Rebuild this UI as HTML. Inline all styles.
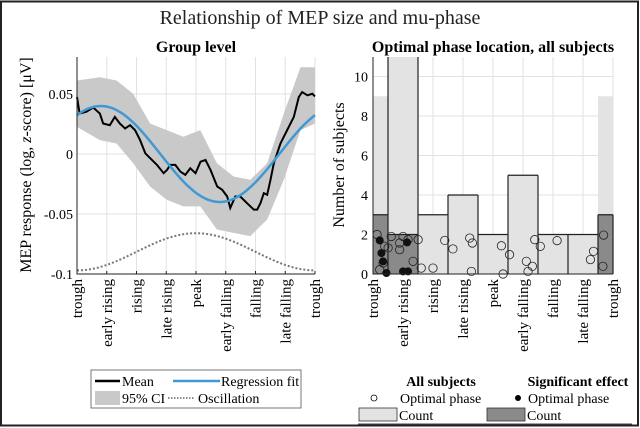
<!DOCTYPE html>
<html><head><meta charset="utf-8"><style>
body{margin:0;background:#fff}
svg{display:block;font-family:"Liberation Serif","DejaVu Serif",serif}
svg text{font-family:"Liberation Serif","DejaVu Serif",serif}
</style></head><body>
<svg id="fig" width="640" height="428" viewBox="0 0 640 428" xmlns="http://www.w3.org/2000/svg" font-family="Liberation Serif, DejaVu Serif, serif">
<rect x="1" y="1.5" width="637" height="424" fill="none" stroke="#222" stroke-width="2"/>
<text x="320" y="24" text-anchor="middle" font-size="20" fill="#222">Relationship of MEP size and mu-phase</text>
<text x="196" y="52" text-anchor="middle" font-size="16" font-weight="bold">Group level</text>
<text x="493" y="52" text-anchor="middle" font-size="16" font-weight="bold">Optimal phase location, all subjects</text>
<g id="left"></g>
<g id="right"></g>
<text transform="translate(31,165) rotate(-90)" text-anchor="middle" font-size="16">MEP response (log, <tspan font-style="italic">z</tspan>-score) [μV]</text>
<text transform="translate(344,165) rotate(-90)" text-anchor="middle" font-size="16">Number of subjects</text>

<g>
<rect x="91" y="370" width="210" height="38" fill="#fff" stroke="#555" stroke-width="0.8"/>
<line x1="95" y1="381" x2="120" y2="381" stroke="#000" stroke-width="2.5"/>
<text x="122" y="386" font-size="14">Mean</text>
<line x1="173" y1="381" x2="220" y2="381" stroke="#3d9ad4" stroke-width="2.5"/>
<text x="221" y="386" font-size="14">Regression fit</text>
<rect x="95" y="391" width="25" height="14" fill="#c9c9c9"/>
<text x="122" y="403" font-size="14">95% CI</text>
<line x1="168" y1="398" x2="195" y2="398" stroke="#666" stroke-width="1.5" stroke-dasharray="1.5,1.5"/>
<text x="198" y="403" font-size="14">Oscillation</text>
</g>
<g>
<line x1="358" y1="424" x2="632" y2="424" stroke="#444" stroke-width="1"/>
<text x="441" y="386" text-anchor="middle" font-size="14" font-weight="bold">All subjects</text>
<text x="578" y="386" text-anchor="middle" font-size="14" font-weight="bold">Significant effect</text>
<circle cx="374" cy="398" r="3" fill="#fff" stroke="#000" stroke-width="0.8"/>
<text x="400" y="403" font-size="14">Optimal phase</text>
<circle cx="518" cy="398" r="3" fill="#000"/>
<text x="528" y="403" font-size="14">Optimal phase</text>
<rect x="359" y="408" width="38" height="13" fill="#e3e3e3" stroke="#333" stroke-width="0.8"/>
<text x="399" y="420" font-size="14">Count</text>
<rect x="487" y="408" width="38" height="13" fill="#8a8a8a" stroke="#333" stroke-width="0.8"/>
<text x="527" y="420" font-size="14">Count</text>
</g>
</svg>
<script>
// ---- Left chart data ----
const phaseLabels = ["trough","early rising","rising","late rising","peak","early falling","falling","late falling","trough"];
const yTicksLeft = [0.05, 0, -0.05, -0.1];
const yTickLabelsLeft = ["0.05","0","-0.05","-0.1"];
const meanX = [0,.011,.039,.068,.096,.110,.138,.159,.180,.202,.223,.244,.265,.287,.308,.336,.364,.378,.392,.413,.434,.455,.476,.498,.519,.540,.561,.589,.610,.631,.644,.665,.686,.714,.743,.757,.771,.785,.799,.813,.827,.855,.883,.911,.932,.946,.968,.989,1];
const meanY = [.0475,.0337,.0351,.0387,.0337,.0254,.0240,.0309,.0254,.0213,.0240,.0199,.0116,.0006,-.0036,-.0091,-.0160,-.0133,-.0091,-.0091,-.0146,-.0174,-.0119,-.0160,-.0064,-.0050,-.0133,-.0271,-.0298,-.0354,-.0450,-.0354,-.0354,-.0409,-.0464,-.0464,-.0409,-.0326,-.0340,-.0215,-.0077,.0088,.0199,.0309,.0475,.0516,.0489,.0502,.0480];
const ciX = [0,.096,.166,.236,.307,.377,.447,.518,.588,.658,.728,.799,.869,.939,1];
const ciUpper = [.0613,.0640,.0613,.0502,.0254,.0199,.0144,.0199,-.0077,-.0188,-.0215,-.0077,.0337,.0723,.0723];
const ciLower = [.0226,.0116,.0088,-.0077,-.0271,-.0381,-.0436,-.0436,-.0629,-.0657,-.0684,-.0546,-.0215,.0199,.0254];
const fitParams = [0.0, 0.040, 0.10];       // offset, amplitude, phase of maximum
const oscParams = [-0.0815, 0.0155];         // centre, amplitude (peak at 'peak')

// ---- Right chart data ----
const yTicksRight = [0,2,4,6,8,10];
const countAll = [9,11,3,4,2,5,2,2,9];
const countSig = [3,2,0,0,0,0,0,0,3];
const outlineCounts = [3,2,3,4,2,5,2,2,3];
const openX = [.017,.028,.049,.063,.076,.111,.125,.146,.167,.188,.201,.25,.299,.333,.403,.414,.410,.535,.569,.542,.639,.664,.646,.674,.697,.767,.906,.919,.961,.958,.111,.042];
const openY = [2.0,.22,1.4,1.32,1.9,1.23,1.9,1.74,.64,1.74,.30,.30,1.70,1.27,1.82,1.57,.13,1.43,.98,0,.64,.39,.13,1.74,1.40,1.69,.73,1.15,1.97,.39,1.57,.56];
const sigX = [.028,.042,.056,.142,.125,.146,.035];
const sigY = [1.70,.64,.05,1.60,.13,.13,1.06];

const NS = "http://www.w3.org/2000/svg";
const FF = "Liberation Serif, DejaVu Serif, serif";
function mk(parent, tag, attrs){const e=document.createElementNS(NS,tag);for(const k in attrs)e.setAttribute(k,attrs[k]);if(tag==='text')e.setAttribute('font-family',FF);parent.appendChild(e);return e;}

// Left axes
const L = {x0:77, x1:315, yTop:57, yBot:274};
const lx = f => L.x0 + f*(L.x1-L.x0);
const ly = v => 154 - v*1200;
const left = document.getElementById('left');
for (let i=0;i<phaseLabels.length;i++){
  const g = mk(left,'line',{x1:lx(i/8),x2:lx(i/8),y1:L.yTop,y2:L.yBot,stroke:'#e2e2e2','stroke-width':1});
  
  
}
yTicksLeft.forEach((v,i)=>{
  const g = mk(left,'line',{x1:L.x0,x2:L.x1,y1:ly(v),y2:ly(v),stroke:'#e2e2e2','stroke-width':1});
  
  
});
let d='';
ciX.forEach((x,i)=>{d+=(i?'L':'M')+lx(x)+','+ly(ciUpper[i]);});
for(let i=ciX.length-1;i>=0;i--) d+='L'+lx(ciX[i])+','+ly(ciLower[i]);
const ci = mk(left,'path',{d:d+'Z',fill:'#c9c9c9'});


let od='';
for(let i=0;i<=100;i++){const f=i/100;const v=oscParams[0]-oscParams[1]*Math.cos(2*Math.PI*f);od+=(i?'L':'M')+lx(f)+','+ly(v);}
const osc = mk(left,'path',{d:od,fill:'none',stroke:'#777','stroke-width':2,'stroke-dasharray':'2,2'});


let md='';
meanX.forEach((x,i)=>{md+=(i?'L':'M')+lx(x)+','+ly(meanY[i]);});
const mean = mk(left,'path',{d:md,fill:'none',stroke:'#000','stroke-width':2});


let fd='';
for(let i=0;i<=100;i++){const f=i/100;const v=fitParams[0]+fitParams[1]*Math.cos(2*Math.PI*(f-fitParams[2]));fd+=(i?'L':'M')+lx(f)+','+ly(v);}
const fit = mk(left,'path',{d:fd,fill:'none',stroke:'#3d9ad4','stroke-width':2.5});


const lax = mk(left,'path',{d:`M${L.x0},${L.yTop}V${L.yBot}H${L.x1}`,fill:'none',stroke:'#222','stroke-width':1});


yTicksLeft.forEach((v,i)=>{
  const t = mk(left,'text',{x:L.x0-4,y:ly(v)+5,'text-anchor':'end','font-size':14});
  t.textContent = yTickLabelsLeft[i];
  
  
});
phaseLabels.forEach((s,i)=>{
  const tk = mk(left,'line',{x1:lx(i/8),x2:lx(i/8),y1:L.yBot,y2:L.yBot-3,stroke:'#222'});
  
  
  const t = mk(left,'text',{transform:`translate(${lx(i/8)+5},${L.yBot+5}) rotate(-90)`,'text-anchor':'end','font-size':15});
  t.textContent = s;
  
  
});

// Right axes
const R = {x0:373, x1:613, yTop:57, yBot:274};
const rx = f => R.x0 + f*(R.x1-R.x0);
const ry = v => R.yBot - v*19.75;
const right = document.getElementById('right');
const bw = 1/8;
function binEdges(i){ let a=(i-0.5)*bw, b=(i+0.5)*bw; return [Math.max(0,a),Math.min(1,b)]; }
phaseLabels.forEach((s,i)=>{
  const g = mk(right,'line',{x1:rx(i/8),x2:rx(i/8),y1:R.yTop,y2:R.yBot,stroke:'#e2e2e2'});
  
  
});
yTicksRight.forEach(v=>{
  const g = mk(right,'line',{x1:R.x0,x2:R.x1,y1:ry(v),y2:ry(v),stroke:'#e2e2e2'});
  
  
});
countAll.forEach((c,i)=>{
  const [a,b]=binEdges(i);
  const top = Math.max(ry(c), R.yTop);
  const r = mk(right,'rect',{x:rx(a),y:top,width:rx(b)-rx(a),height:R.yBot-top,fill:'#e3e3e3'});
  
  
});
countSig.forEach((c,i)=>{
  if(!c) return;
  const [a,b]=binEdges(i);
  const r = mk(right,'rect',{x:rx(a),y:ry(c),width:rx(b)-rx(a),height:R.yBot-ry(c),fill:'#8a8a8a'});
  
  
});
let sd='';
outlineCounts.forEach((c,i)=>{
  const [a,b]=binEdges(i);
  sd+=`M${rx(a)},${ry(c)}H${rx(b)}`;
  sd+=`M${rx(b)},${R.yBot}V${ry(Math.max(c, i+1<outlineCounts.length?outlineCounts[i+1]:0))}`;
});
sd+=`M${rx(binEdges(1)[0])},${R.yBot}V${R.yTop}M${rx(binEdges(1)[1])},${R.yBot}V${R.yTop}`;
const st = mk(right,'path',{d:sd,fill:'none',stroke:'#222','stroke-width':1.2});


openX.forEach((x,i)=>{
  const c = mk(right,'circle',{cx:rx(x),cy:ry(openY[i]),r:4.2,fill:'none',stroke:'#222','stroke-width':0.8});
  
  
});
sigX.forEach((x,i)=>{
  const c = mk(right,'circle',{cx:rx(x),cy:ry(sigY[i]),r:4,fill:'#111'});
  
  
});
const rax = mk(right,'path',{d:`M${R.x0},${R.yTop}V${R.yBot}H${R.x1}`,fill:'none',stroke:'#222','stroke-width':1});


yTicksRight.forEach(v=>{
  const t = mk(right,'text',{x:R.x0-5,y:ry(v)+5,'text-anchor':'end','font-size':14});
  t.textContent = String(v);
  
  
});
phaseLabels.forEach((s,i)=>{
  const t = mk(right,'text',{transform:`translate(${rx(i/8)+5},${R.yBot+5}) rotate(-90)`,'text-anchor':'end','font-size':15});
  t.textContent = s;
  
  
});
</script>
</body></html>
